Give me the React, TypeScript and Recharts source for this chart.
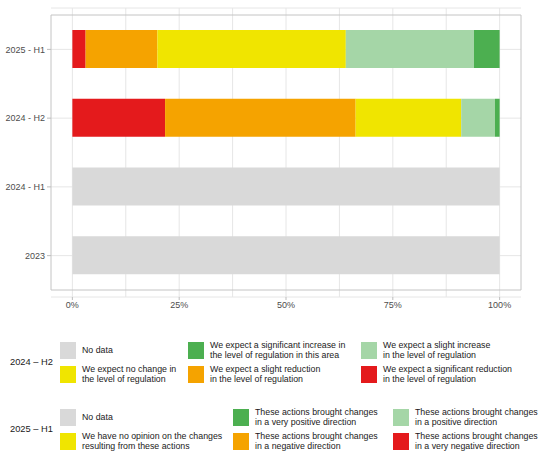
import { Bar, BarChart, CartesianGrid, ReferenceArea, XAxis, YAxis } from 'recharts';

const categories = ['2025 - H1', '2024 - H2', '2024 - H1', '2023'];
const veryNegative = [3.1, 21.7, 0, 0];
const negative = [16.8, 44.6, 0, 0];
const noChange = [44.1, 24.7, 0, 0];
const positive = [30.0, 7.9, 0, 0];
const veryPositive = [6.0, 1.1, 0, 0];
const noData = [0, 0, 100, 100];

const xTicks = [0, 25, 50, 75, 100];
const gridValues = [0, 12.5, 25, 37.5, 50, 62.5, 75, 87.5, 100];

const legendTitles = ['2024 – H2', '2025 – H1'];
const legend2024Labels = [
  'No data',
  'We expect a significant increase in\nthe level of regulation in this area',
  'We expect a slight increase\nin the level of regulation',
  'We expect no change in\nthe level of regulation',
  'We expect a slight reduction\nin the level of regulation',
  'We expect a significant reduction\nin the level of regulation',
];
const legend2025Labels = [
  'No data',
  'These actions brought changes\nin a very positive direction',
  'These actions brought changes\nin a positive direction',
  'We have no opinion on the changes\nresulting from these actions',
  'These actions brought changes\nin a negative direction',
  'These actions brought changes\nin a very negative direction',
];

const colors = {
  noData: '#d9d9d9',
  veryPositive: '#4caf50',
  positive: '#a5d6a7',
  noChange: '#f0e500',
  negative: '#f5a300',
  veryNegative: '#e41a1c',
};

// legend swatches in reading order (row by row)
const legendColors = [
  colors.noData,
  colors.veryPositive,
  colors.positive,
  colors.noChange,
  colors.negative,
  colors.veryNegative,
];

const data = categories.map((name, i) => ({
  name,
  veryNegative: veryNegative[i],
  negative: negative[i],
  noChange: noChange[i],
  positive: positive[i],
  veryPositive: veryPositive[i],
  noData: noData[i],
}));

const tickStyle = { fontSize: 9, fill: '#4d4d4d' };

function CategoryTick({ x, y, payload }: any) {
  return (
    <text x={x} y={y} dy='0.355em' textAnchor='end' fontSize={9} fill='#4d4d4d'>
      {payload.value}
    </text>
  );
}

type LegendProps = {
  title: string;
  labels: string[];
  top: number;
  columns: number[];
};

function LegendBlock({ title, labels, top, columns }: LegendProps) {
  return (
    <div style={{ position: 'absolute', left: 0, top, width: 550, height: 44 }}>
      <div
        style={{
          position: 'absolute',
          left: 10,
          top: 15,
          fontSize: 9.3,
          lineHeight: '12px',
          color: '#1a1a1a',
        }}
      >
        {title}
      </div>
      {labels.map((label, i) => (
        <div
          key={i}
          style={{
            position: 'absolute',
            left: columns[i % 3],
            top: i < 3 ? 0 : 24,
            height: 19,
            display: 'flex',
            alignItems: 'center',
          }}
        >
          <div
            style={{
              width: 16,
              height: 17,
              backgroundColor: legendColors[i],
              marginRight: 6,
              flexShrink: 0,
            }}
          />
          <span
            style={{
              fontSize: 8.8,
              lineHeight: '9.5px',
              color: '#1a1a1a',
              whiteSpace: 'pre',
            }}
          >
            {label}
          </span>
        </div>
      ))}
    </div>
  );
}

export default function App() {
  return (
    <div
      style={{
        position: 'absolute',
        left: 0,
        top: 0,
        width: 550,
        height: 458,
        background: '#fff',
        fontFamily: '"Liberation Sans", Arial, sans-serif',
      }}
    >
      <BarChart
        width={550}
        height={320}
        data={data}
        layout='vertical'
        margin={{ top: 8, right: 29, left: 0, bottom: 0 }}
      >
        <CartesianGrid stroke='#e6e6e6' verticalValues={gridValues} />
        <XAxis
          type='number'
          domain={[-5, 105]}
          ticks={xTicks}
          tickFormatter={(v) => `${v}%`}
          axisLine={false}
          tickSize={3}
          tickMargin={2}
          height={23}
          tick={tickStyle}
          tickLine={{ stroke: '#bdbdbd' }}
        />
        <YAxis
          type='category'
          dataKey='name'
          width={51}
          axisLine={false}
          tickSize={4}
          tickMargin={2}
          tick={<CategoryTick />}
          tickLine={{ stroke: '#bdbdbd' }}
          padding={{ top: 7, bottom: 7 }}
        />
        <Bar dataKey='veryNegative' stackId='a' fill={colors.veryNegative} barSize={38} isAnimationActive={false} />
        <Bar dataKey='negative' stackId='a' fill={colors.negative} barSize={38} isAnimationActive={false} />
        <Bar dataKey='noChange' stackId='a' fill={colors.noChange} barSize={38} isAnimationActive={false} />
        <Bar dataKey='positive' stackId='a' fill={colors.positive} barSize={38} isAnimationActive={false} />
        <Bar dataKey='veryPositive' stackId='a' fill={colors.veryPositive} barSize={38} isAnimationActive={false} />
        <Bar dataKey='noData' stackId='a' fill={colors.noData} barSize={38} isAnimationActive={false} />
        <ReferenceArea x1={-5} x2={105} fill='none' stroke='#c4c4c4' strokeWidth={1} fillOpacity={0} />
      </BarChart>
      <LegendBlock
        title={legendTitles[0]}
        labels={legend2024Labels}
        top={341}
        columns={[60, 188, 361]}
      />
      <LegendBlock
        title={legendTitles[1]}
        labels={legend2025Labels}
        top={408}
        columns={[60, 233, 393]}
      />
    </div>
  );
}
